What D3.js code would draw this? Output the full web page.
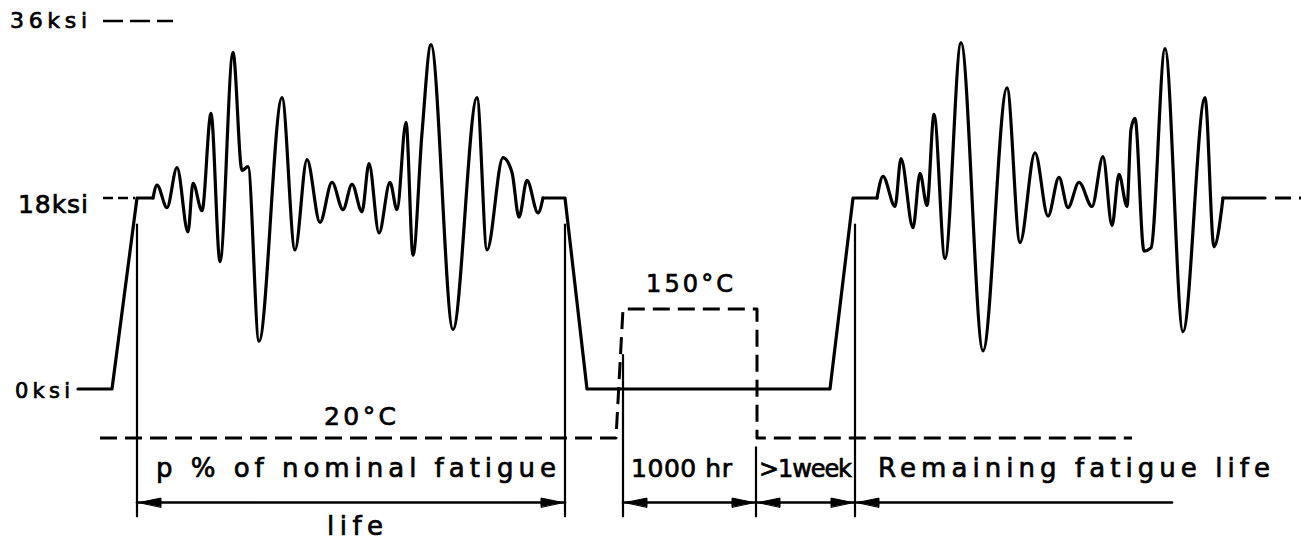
<meta charset="UTF-8">
<head>
  <script src="https://d3js.org/d3.v7.min.js"></script>
  <style>
    body { margin: 0; background: #fff; }
    text { font-family: "DejaVu Sans", sans-serif; fill: #000; stroke: #000; stroke-width: 0.7px; }
  </style>
</head>
<body>
<svg id="svg" width="1301" height="542"></svg>
<script>
  // stress history, time in arbitrary units, stress in ksi
  const rampTime = [78, 112, 137, 153];
  const rampKsi  = [0, 0, 18, 18];

  const block1Time = [153, 157, 167, 177, 188, 193, 202, 211, 220, 233, 242, 248, 259, 282, 295, 307, 320, 332, 343, 352, 362, 369, 379, 390, 397, 406, 413, 422, 431, 453, 477, 487, 503, 512, 519, 527, 538, 543];
  const block1Ksi  = [18, 19.3, 17.1, 21.1, 14.8, 19.5, 16.8, 26.6, 12.0, 32.8, 20.8, 21.2, 4.5, 28.2, 13.1, 21.9, 15.7, 19.6, 16.9, 19.4, 16.7, 21.5, 14.7, 19.6, 16.9, 25.7, 12.6, 24.6, 33.6, 5.6, 28.2, 13.1, 22.1, 20.6, 16.2, 19.8, 16.6, 18];

  const holdTime = [543, 565, 587, 830, 853, 877];
  const holdKsi  = [18, 18, 0, 0, 18, 18];

  const block2Time = [877, 883, 895, 901, 913, 920, 927, 934, 945, 961, 983, 1007, 1020, 1035, 1048, 1059, 1068, 1079, 1092, 1103, 1112, 1119, 1127, 1131, 1135, 1144, 1151, 1165, 1183, 1205, 1214, 1223];
  const block2Ksi  = [18, 20.2, 17.2, 22.0, 15.2, 20.5, 17.3, 26.5, 12.3, 33.8, 3.6, 29.2, 13.8, 22.6, 16.3, 20.1, 17.1, 19.6, 17.2, 22.2, 15.4, 20.4, 17.2, 25.0, 26.1, 13.0, 13.3, 33.2, 5.4, 28.2, 13.4, 18];

  const tailTime = [1223, 1265];
  const tailKsi  = [18, 18];
  const tailDashTime = [1275, 1301];

  // temperature history, degC
  const tempTime = [100, 616, 623, 757, 757, 1132];
  const tempC    = [20, 20, 150, 150, 20, 20];

  // stress reference levels
  const levelKsi   = [36, 18, 0];
  const levelLabel = ["36ksi", "18ksi", "0ksi"];

  // extension lines and dimension arrows
  const extTime   = [137, 565, 623, 756, 855];
  const extTopKsi = [15.5, 15.5, 3.2, -5.5, 15.5];
  const extBotKsi = -12;
  const dimKsi = -10.7;
  const dimFrom = [137, 623, 756, 855];
  const dimTo   = [565, 756, 855, 1172];
  const dimHeads = ["both", "both", "both", "left"];

  const svg = d3.select("#svg");
  const x = d3.scaleLinear().domain([0, 1301]).range([0, 1301]);
  const y = d3.scaleLinear().domain([0, 18, 36]).range([389, 198, 21]);
  const yT = d3.scaleLinear().domain([20, 150]).range([438, 309]);

  const pts = (t, v) => t.map((d, i) => [d, v[i]]);
  const straight = d3.line().x(d => x(d[0])).y(d => y(d[1]));
  const wavy = d3.line().x(d => x(d[0])).y(d => y(d[1])).curve(d3.curveMonotoneX);

  const g = svg.append("g").attr("fill", "none").attr("stroke", "#000")
    .attr("stroke-linecap", "round").attr("stroke-linejoin", "round");

  // stress curve
  [[rampTime, rampKsi, straight], [block1Time, block1Ksi, wavy], [holdTime, holdKsi, straight],
   [block2Time, block2Ksi, wavy], [tailTime, tailKsi, straight]].forEach(s => {
    g.append("path").attr("d", s[2](pts(s[0], s[1]))).attr("stroke-width", 3.2);
  });
  g.append("path").attr("d", straight(pts(tailDashTime, [18, 18])))
    .attr("stroke-width", 3).attr("stroke-linecap", "butt").attr("stroke-dasharray", "16,8");

  // level dashes next to the labels
  g.append("path").attr("d", straight([[103, 36], [173, 36]]))
    .attr("stroke-width", 2.6).attr("stroke-linecap", "butt").attr("stroke-dasharray", "20,7");
  g.append("path").attr("d", straight([[103, 18], [135, 18]]))
    .attr("stroke-width", 2.6).attr("stroke-linecap", "butt").attr("stroke-dasharray", "10,5");

  // temperature
  const tLine = d3.line().x(d => x(d[0])).y(d => yT(d[1]));
  g.append("path").attr("d", tLine(pts(tempTime, tempC)))
    .attr("stroke-width", 3).attr("stroke-linecap", "butt").attr("stroke-dasharray", "17,8");

  // extension lines
  extTime.forEach((t, i) => {
    g.append("line").attr("x1", x(t)).attr("x2", x(t))
      .attr("y1", y(extTopKsi[i])).attr("y2", y(extBotKsi)).attr("stroke-width", 2.2);
  });

  // dimension arrows
  const yd = y(dimKsi);
  const head = (tip, dir) => `M${tip},${yd}L${tip + dir * 22},${yd - 4.5}L${tip + dir * 22},${yd + 4.5}Z`;
  dimFrom.forEach((f, i) => {
    const a = x(f), b = x(dimTo[i]);
    g.append("line").attr("x1", a).attr("x2", b).attr("y1", yd).attr("y2", yd).attr("stroke-width", 2.6);
    g.append("path").attr("d", head(a + 2, 1)).attr("fill", "#000").attr("stroke-width", 1);
    if (dimHeads[i] === "both")
      g.append("path").attr("d", head(b - 2, -1)).attr("fill", "#000").attr("stroke-width", 1);
  });

  // labels
  const lab = (txt, x0, w, base, size) => svg.append("text")
    .attr("x", x0).attr("y", base).attr("font-size", size)
    .attr("textLength", w).attr("lengthAdjust", "spacing").text(txt);

  lab(levelLabel[0], 10, 77, y(levelKsi[0]) + 7, 22);
  lab(levelLabel[1], 18, 70, y(levelKsi[1]) + 15, 25);
  lab(levelLabel[2], 15, 55, y(levelKsi[2]) + 9, 21);

  lab("20°C", 324, 72, 425, 25);
  lab("150°C", 646, 87, 292, 24);
  lab("p % of nominal fatigue", 156, 400, 477, 26);
  lab("life", 327, 56, 535, 26);
  lab("1000 hr", 631, 101, 477, 25);
  lab(">1week", 759, 93, 477, 24);
  lab("Remaining fatigue life", 878, 392, 477, 26);
</script>
</body>
